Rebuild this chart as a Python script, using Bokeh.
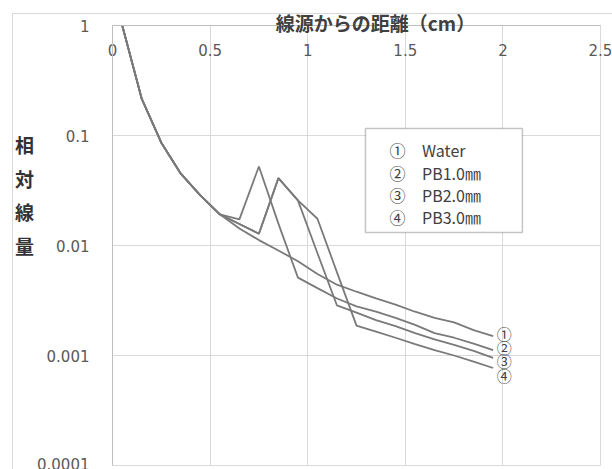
from bokeh.plotting import figure
from bokeh.models import FixedTicker, BoxAnnotation, ColumnDataSource, Range1d
from bokeh.core.properties import value
from bokeh.embed import file_html
from bokeh.resources import INLINE

# ---- data ----
distance = [0.05, 0.15, 0.25, 0.35, 0.45, 0.55, 0.65, 0.75, 0.85, 0.95,
            1.05, 1.15, 1.25, 1.35, 1.45, 1.55, 1.65, 1.75, 1.85, 1.95]
water = [1.0, 0.215, 0.086, 0.045, 0.0285, 0.0192, 0.0143, 0.0112, 0.0090, 0.0072,
         0.0055, 0.0044, 0.0038, 0.0033, 0.0029, 0.0025, 0.0022, 0.0020, 0.0017, 0.0015]
pb1 = [1.0, 0.215, 0.086, 0.045, 0.0285, 0.0192, 0.0173, 0.0523, 0.0158, 0.0051,
       0.0041, 0.0033, 0.0028, 0.0025, 0.0022, 0.0019, 0.0016, 0.00145, 0.00128, 0.00112]
pb2 = [1.0, 0.215, 0.086, 0.045, 0.0285, 0.0192, 0.0157, 0.0128, 0.0410, 0.0257,
       0.0085, 0.00285, 0.00245, 0.0021, 0.00185, 0.0016, 0.0014, 0.00125, 0.0011, 0.00095]
pb3 = [1.0, 0.215, 0.086, 0.045, 0.0285, 0.0192, 0.0157, 0.0128, 0.0410, 0.0257,
       0.0175, 0.0057, 0.00187, 0.00165, 0.00145, 0.00127, 0.00112, 0.0010, 0.00088, 0.00077]

series = [water, pb1, pb2, pb3]
series_marks = ["①", "②", "③", "④"]
series_names = ["Water", "PB1.0㎜", "PB2.0㎜", "PB3.0㎜"]

x_ticks = [0, 0.5, 1, 1.5, 2, 2.5]
x_tick_labels = ["0", "0.5", "1", "1.5", "2", "2.5"]
y_ticks = [0.0001, 0.001, 0.01, 0.1, 1]
y_tick_labels = ["0.0001", "0.001", "0.01", "0.1", "1"]

x_title = "線源からの距離（cm）"
y_title = "相\n対\n線\n量"

# ---- figure ----
p = figure(width=612, height=469,
           x_range=Range1d(0, 2.5), y_range=Range1d(0.0001, 1),
           y_axis_type="log", x_axis_location="above",
           output_backend="svg", toolbar_location=None,
           min_border_left=112, min_border_right=12,
           min_border_top=25, min_border_bottom=4)
# faint outer chart-area border (Excel style) painted behind a transparent border area
p.styles = {"background":
            "linear-gradient(#d9d9d9,#d9d9d9) 12px 13px / 1px 100% no-repeat, "
            "linear-gradient(#d9d9d9,#d9d9d9) 12px 13px / 100% 1px no-repeat, white"}
p.background_fill_color = "white"
p.border_fill_color = None
p.outline_line_color = "#d9d9d9"

def overrides(ticks, labels):
    d = {}
    for t, l in zip(ticks, labels):
        d[float(t)] = l
        d[l] = l
    return d

tick_font = "DejaVu Sans"

xa = p.xaxis[0]
xa.ticker = FixedTicker(ticks=x_ticks)
xa.major_label_overrides = overrides(x_ticks, x_tick_labels)
xa.major_tick_out = 0
xa.major_tick_in = 0
xa.minor_tick_out = 0
xa.minor_tick_in = 0
xa.major_label_standoff = -30
xa.axis_line_color = "#bfbfbf"
xa.major_label_text_font = tick_font
xa.major_label_text_font_size = "15px"
xa.major_label_text_color = "#595959"
xa.axis_label = "\u3000\u3000" + x_title
xa.axis_label_standoff = 5
xa.axis_label_text_font = "Noto Sans CJK JP"
xa.axis_label_text_font_size = "19px"
xa.axis_label_text_font_style = "bold"
xa.axis_label_text_color = "#404040"

ya = p.yaxis[0]
ya.ticker = FixedTicker(ticks=y_ticks)
ya.major_label_overrides = overrides(y_ticks, y_tick_labels)
ya.major_tick_out = 0
ya.major_tick_in = 0
ya.minor_tick_out = 0
ya.minor_tick_in = 0
ya.major_label_standoff = 23
ya.axis_line_color = "#bfbfbf"
ya.major_label_text_font = tick_font
ya.major_label_text_font_size = "15px"
ya.major_label_text_color = "#595959"
ya.axis_label = y_title + "\n\u3000\n\u3000\n\u3000"
ya.axis_label_orientation = "horizontal"
ya.axis_label_standoff = 0
ya.axis_label_text_font = "Noto Sans CJK JP"
ya.axis_label_text_font_size = "19px"
ya.axis_label_text_font_style = "bold"
ya.axis_label_text_color = "#333333"
ya.axis_label_text_line_height = 1.25

p.xgrid.grid_line_color = "#d9d9d9"
p.ygrid.grid_line_color = "#d9d9d9"
p.ygrid.minor_grid_line_color = None

# ---- legend box ----
box = BoxAnnotation(left=1.296, right=2.1, top=0.116, bottom=0.0131,
                    fill_color="white", fill_alpha=1.0,
                    line_color="#3a3a3a", line_width=1.5, level="underlay")
p.add_layout(box)

# ---- curves ----
for s in series:
    p.line(distance, s, line_color="#7a7a7a", line_width=1.8)

# ---- legend text ----
legend_y = [0.0731, 0.0458, 0.0286, 0.0180]
leg_src = ColumnDataSource(dict(xm=[1.46] * 4, xt=[1.586] * 4, y=legend_y,
                                m=series_marks, t=series_names))
p.text(x="xm", y="y", text="m", source=leg_src, text_align="center",
       text_baseline="middle", text_font=value("Noto Sans CJK JP"),
       text_font_size="16px", text_color="#404040")
p.text(x="xt", y="y", text="t", source=leg_src, text_align="left",
       text_baseline="middle", text_font=value("Noto Sans CJK JP"),
       text_font_size="16px", text_color="#404040")

# ---- end-of-curve markers ----
end_src = ColumnDataSource(dict(x=[distance[-1]] * 4, y=[s[-1] for s in series],
                                m=series_marks, dy=[-3, -3, 3, 8]))
p.text(x="x", y="y", text="m", source=end_src, x_offset=11, y_offset="dy",
       text_align="center", text_baseline="middle",
       text_font=value("Noto Sans CJK JP"), text_font_size="15px",
       text_color="#404040")

open("out.html", "w").write(file_html(p, INLINE))
